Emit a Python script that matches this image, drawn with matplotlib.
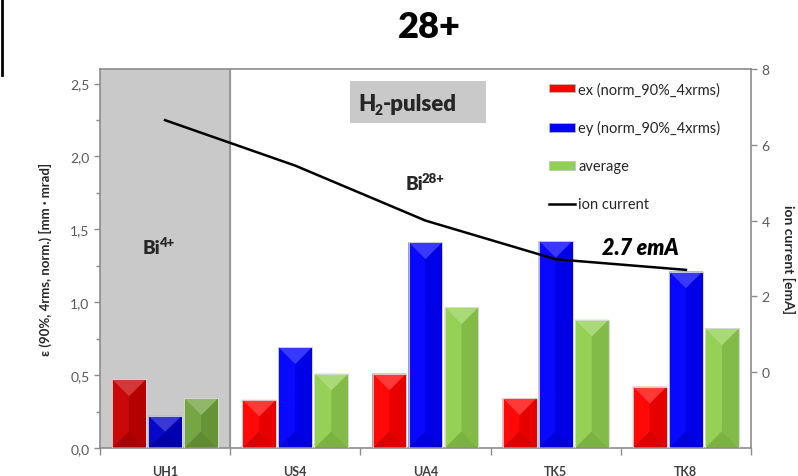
import numpy as np
import matplotlib
matplotlib.use("Agg")
from matplotlib import pyplot as plt
from matplotlib.patches import Polygon, Patch, Rectangle
from matplotlib.lines import Line2D
from matplotlib.ticker import FixedLocator, FuncFormatter, MultipleLocator

plt.rcParams['font.family'] = ['Lato', 'DejaVu Sans']

# emittance per ion source setting
sources = ['UH1', 'US4', 'UA4', 'TK5', 'TK8']
ex_vals = [0.47, 0.33, 0.51, 0.34, 0.42]
ey_vals = [0.22, 0.69, 1.41, 1.42, 1.21]
avg_vals = [0.34, 0.51, 0.965, 0.88, 0.82]
# ion current on the right-hand scale [emA]
ion_current = [6.65, 5.45, 4.0, 2.98, 2.7]

series = [
    ('ex (norm_90%_4xrms)', ex_vals, '#ff0000'),
    ('ey (norm_90%_4xrms)', ey_vals, '#0000ff'),
    ('average', avg_vals, '#92d050'),
]

grey_txt = '#595959'
spine_col = '#8c8c8c'
dark_txt = '#262626'
W, H = 798, 477


def shade(col, f):
    c = np.array(matplotlib.colors.to_rgb(col))
    if f >= 1:
        return tuple(c + (1 - c) * (f - 1))
    return tuple(c * f)


def px_text(px, py, s, **kw):
    # text placed by pixel position from the top-left corner
    return fig.text(px / W, 1 - py / H, s, **kw)


def split_label(px, py, base, extra, size, extra_size, dy, tail=None, tail_dx=0):
    # base text + raised/lowered small text (+ optional trailing text)
    kw = dict(fontweight='heavy', color=dark_txt, va='baseline')
    px_text(px, py, base, fontsize=size, ha='right', **kw)
    px_text(px - 1, py - dy, extra, fontsize=extra_size, ha='left', **kw)
    if tail:
        px_text(px + tail_dx, py, tail, fontsize=size, ha='left', **kw)


fig = plt.figure(figsize=(W / 100, H / 100), dpi=100)
ax = fig.add_axes([100 / W, 1 - 449 / H, 651 / W, 379 / H])
ax.set_xlim(-0.5, len(sources) - 0.5)
ax.set_ylim(0, 2.6)

# UH1 (Bi4+) area
ax.axvspan(-0.5, 0.5, color='#c9c9c9', zorder=0)
ax.axvline(0.5, color=spine_col, lw=1.2, zorder=1)

x = np.arange(len(sources))
bar_w = 0.26
step = 0.277

# pixel aspect, used for the bevelled bar faces
px_x = 651 / 5.0
px_y = 379 / 2.6

for i, (label, vals, col) in enumerate(series):
    cols = [shade(col, 0.78) if j == 0 else col for j in range(len(vals))]
    bars = ax.bar(x + (i - 1) * step, vals, bar_w, color=cols,
                  edgecolor='#d9d9d9', linewidth=0.6, zorder=2)
    for b, c in zip(bars, cols):
        x0, w, h = b.get_x(), b.get_width(), b.get_height()
        cx = x0 + w / 2
        d = min(w / 2 * px_x / px_y, h / 2)
        top, bot = h, 0.0
        faces = [
            ([(x0, top), (x0 + w, top), (cx, top - d)], shade(c, 1.22)),
            ([(x0, bot), (x0 + w, bot), (cx, bot + d)], shade(c, 0.85)),
            ([(x0, bot), (x0, top), (cx, top - d), (cx, bot + d)], shade(c, 1.03)),
            ([(x0 + w, bot), (x0 + w, top), (cx, top - d), (cx, bot + d)], shade(c, 0.9)),
        ]
        for pts, fc in faces:
            ax.add_patch(Polygon(pts, closed=True, facecolor=fc,
                                 edgecolor='none', zorder=2.5))
        ax.add_patch(Polygon([(x0, 0), (x0, h), (x0 + w, h), (x0 + w, 0)],
                             closed=True, fill=False, edgecolor='#dcdcdc',
                             linewidth=0.6, zorder=2.6))

# axes styling
for s in ax.spines.values():
    s.set_color(spine_col)
    s.set_linewidth(1.2)

ax.yaxis.set_major_locator(MultipleLocator(0.5))
ax.yaxis.set_minor_locator(MultipleLocator(0.25))
ax.yaxis.set_major_formatter(FuncFormatter(lambda v, p: f'{v:.1f}'.replace('.', ',')))
ax.tick_params(axis='y', which='both', colors=spine_col, labelcolor=grey_txt,
               labelsize=10, length=4, width=1)
ax.tick_params(axis='y', which='minor', length=3)

ax.set_xticks(x)
ax.set_xticklabels(sources, fontweight='bold', fontsize=9, color='#404040')
ax.xaxis.set_minor_locator(FixedLocator(np.arange(-0.5, len(sources), 1.0)))
ax.tick_params(axis='x', which='major', length=0, pad=12)
ax.tick_params(axis='x', which='minor', length=5, colors=spine_col, width=1)

ax.set_ylabel('ε (90%, 4rms, norm.) [mm · mrad]', fontsize=9.5,
              fontweight='bold', color=dark_txt, labelpad=13)

# ion current on secondary axis
ax2 = ax.twinx()
ax2.set_ylim(-2, 8)
ax2.set_yticks([0, 2, 4, 6, 8])
ax2.tick_params(axis='y', colors=spine_col, labelcolor=grey_txt,
                labelsize=10, length=4, width=1)
for s in ax2.spines.values():
    s.set_visible(False)
ax2.plot(x, ion_current, color='black', lw=1.8, zorder=5)
ax2.set_ylabel('ion current [emA]', fontsize=10, fontweight='bold',
               color=dark_txt, rotation=-90, labelpad=18)

# annotations
fig.patches.append(Rectangle(
    (350 / W, 1 - 124 / H), 136 / W, 42 / H,
    transform=fig.transFigure, facecolor='#c9c9c9', edgecolor='none', zorder=0))
split_label(376, 111, 'H', '2', 16, 10, -4, tail='-pulsed', tail_dx=7)
split_label(423, 190, 'Bi', '28+', 13.5, 9.5, 7)
split_label(160, 254, 'Bi', '4+', 13.5, 9.5, 7)
ax2.text(3.65, ion_current[-1] + 0.6, '2.7 emA', fontsize=15.5,
         fontweight='heavy', fontstyle='italic', color='black',
         ha='center', va='center', zorder=6)

handles = [Patch(facecolor=c, edgecolor='#bfbfbf', linewidth=0.5) for _, _, c in series]
handles.append(Line2D([], [], color='black', lw=1.8))
labels = [s[0] for s in series] + ['ion current']
ax2.legend(handles, labels, loc='upper left', bbox_to_anchor=(0.69, 0.966),
           frameon=False, fontsize=10.5, labelspacing=1.65, handlelength=1.8,
           handleheight=0.55, handletextpad=0.2, borderpad=0, borderaxespad=0,
           labelcolor=dark_txt)

fig.suptitle('28+', x=429 / W, y=1 - 27 / H, va='center',
             fontsize=26, fontweight='heavy')
fig.add_artist(Line2D([0.002, 0.002], [1, 1 - 76 / H], color='black', lw=2,
                      transform=fig.transFigure))

fig.savefig('out.png', dpi=100)
